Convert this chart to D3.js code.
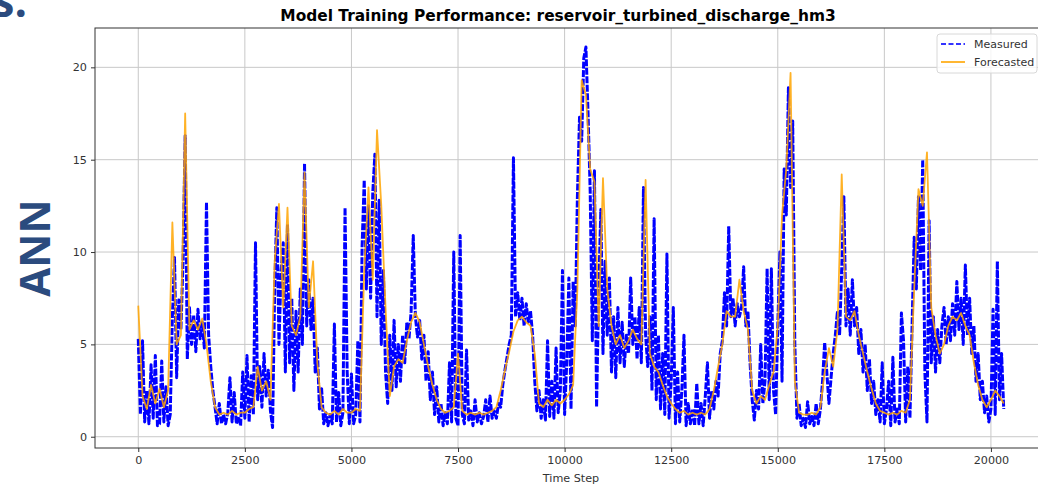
<html>
<head>
<meta charset="utf-8">
<script src="https://d3js.org/d3.v7.min.js"></script>
<style>
  body { margin: 0; background: white; }
  text { font-family: "DejaVu Sans", sans-serif; }
</style>
</head>
<body>
<div id="chart"></div>
<script>

// values, one point every 50 time steps for Measured
var measuredStep = 50;
var measured = [
  5.3, 1.2, 5.2, 0.8, 2.5, 0.7, 3.9, 1.0, 4.4, 0.6,
  0.7, 4.1, 0.8, 2.7, 0.6, 1.2, 6.5, 9.7, 3.2, 7.4,
  5.8, 9.5, 16.3, 4.2, 7.0, 5.0, 6.6, 4.6, 6.9, 5.3,
  6.2, 4.8, 12.7, 5.5, 3.8, 2.5, 1.6, 0.7, 1.8, 0.7,
  1.2, 0.7, 1.3, 3.2, 0.8, 2.4, 0.7, 1.1, 0.6, 3.5,
  1.0, 4.4, 0.8, 3.3, 1.2, 10.5, 2.0, 3.8, 1.6, 4.5,
  2.2, 3.6, 1.4, 0.5, 8.0, 12.4, 5.0, 9.0, 10.5, 3.5,
  11.5, 4.0, 7.5, 2.5, 6.8, 3.5, 8.0, 5.0, 14.8, 6.0,
  8.5, 5.8, 7.5, 3.5, 4.8, 1.5, 2.6, 0.7, 1.3, 0.6,
  1.2, 0.7, 6.1, 0.8, 2.4, 0.6, 1.3, 12.4, 3.5, 0.7,
  3.4, 0.7, 1.2, 5.2, 0.8, 10.3, 13.9, 8.0, 12.5, 7.5,
  13.2, 15.3, 6.5, 12.8, 5.0, 9.0, 3.5, 1.8, 5.5, 2.5,
  6.3, 2.7, 5.0, 3.0, 5.5, 4.0, 6.2, 5.3, 6.8, 10.9,
  6.5, 5.4, 6.3, 4.2, 5.5, 3.0, 4.6, 2.0, 3.5, 1.2,
  2.7, 0.8, 1.8, 0.6, 1.3, 0.7, 4.0, 0.8, 10.0, 1.0,
  0.6, 10.9, 1.2, 0.7, 4.7, 0.9, 1.4, 0.6, 2.0, 0.8,
  1.3, 0.7, 1.1, 2.0, 0.8, 2.2, 1.0, 1.4, 1.0, 1.8,
  1.6, 2.8, 3.6, 4.3, 5.0, 5.5, 15.1, 6.5, 7.8, 6.3,
  7.5, 6.0, 7.2, 6.2, 6.8, 5.5, 3.0, 1.4, 2.5, 1.0,
  2.0, 0.9, 5.2, 1.1, 3.0, 1.0, 4.8, 1.3, 2.5, 9.0,
  1.2, 4.0, 8.6, 1.5, 8.4, 6.0, 13.0, 17.3, 16.0, 20.5,
  21.1, 17.5, 13.3, 5.2, 14.4, 1.6, 8.0, 12.3, 4.5, 9.5,
  5.5, 8.6, 3.5, 6.5, 3.2, 7.0, 4.0, 6.2, 3.8, 5.5,
  4.5, 8.6, 5.0, 6.5, 4.2, 7.0, 4.0, 13.5, 5.5, 3.8,
  6.5, 2.5, 11.8, 2.0, 5.5, 1.5, 4.5, 1.2, 9.9, 1.0,
  3.0, 7.0, 0.7, 3.5, 0.8, 2.5, 5.5, 0.6, 1.8, 0.7,
  1.5, 0.6, 2.9, 0.7, 1.8, 0.6, 2.2, 4.0, 1.0, 2.5,
  1.5, 3.0, 2.2, 4.5, 5.2, 7.8, 6.0, 11.4, 6.5, 7.5,
  6.0, 7.2, 6.5, 7.0, 9.2, 6.0, 6.8, 4.0, 2.0, 0.9,
  2.5, 1.5, 5.0, 1.8, 3.0, 9.1, 2.0, 9.1, 2.5, 1.2,
  6.0, 10.0, 3.0, 14.5, 12.0, 18.9, 13.5, 17.1, 5.0, 1.0,
  1.8, 0.6, 1.0, 0.5, 1.9, 0.7, 1.1, 0.6, 1.8, 0.7,
  1.5, 3.0, 5.1, 3.5, 1.8, 3.2, 4.5, 5.5, 6.8, 5.5,
  9.1, 13.0, 6.0, 8.0, 5.5, 8.5, 6.0, 7.0, 4.5, 5.8,
  3.5, 5.0, 2.5, 4.2, 1.8, 3.0, 1.2, 2.0, 0.8, 4.0,
  0.7, 1.5, 3.0, 0.6, 4.3, 0.8, 1.5, 0.7, 6.7, 5.2,
  0.8, 3.8, 1.0, 6.0, 10.8, 8.0, 13.0, 9.0, 15.0, 3.5,
  0.8, 11.7, 4.0, 6.5, 3.5, 5.8, 4.0, 6.0, 7.0, 5.0,
  6.5, 5.2, 7.2, 5.5, 8.4, 5.8, 7.5, 5.0, 9.3, 5.5,
  7.5, 4.5, 6.0, 3.0, 4.5, 2.0, 3.0, 1.3, 2.2, 0.8,
  1.5, 6.9, 1.2, 9.5, 2.0, 4.5, 1.5
];

// Forecasted, one point every 100 time steps
var forecastStep = 100;
var forecasted = [
  7.1, 2.2, 1.5, 2.8, 1.8, 2.6, 1.6, 2.5, 11.6, 5.0,
  5.5, 17.5, 5.8, 6.3, 5.8, 6.4, 5.0, 3.0, 1.6, 1.2,
  1.3, 1.2, 1.4, 1.2, 1.3, 1.3, 1.5, 1.6, 3.8, 2.5,
  3.0, 2.0, 9.5, 12.6, 7.0, 12.4, 6.0, 5.5, 6.5, 14.3,
  7.0, 9.5, 4.0, 1.6, 1.3, 1.2, 1.4, 1.2, 1.5, 1.3,
  1.3, 1.5, 1.4, 9.0, 13.5, 8.5, 16.6, 12.5, 7.0, 2.2,
  3.8, 4.2, 4.0, 5.2, 6.2, 6.7, 6.2, 5.0, 3.8, 2.8,
  2.0, 1.5, 1.3, 1.4, 1.6, 4.5, 1.4, 1.2, 1.3, 1.2,
  1.3, 1.2, 1.3, 1.4, 1.6, 2.5, 3.6, 4.6, 5.7, 6.3,
  6.5, 6.2, 6.0, 4.5, 1.8, 1.6, 2.0, 1.7, 2.0, 1.8,
  2.0, 2.3, 2.8, 8.0, 19.3, 18.5, 14.5, 13.8, 6.0, 14.0,
  8.0, 6.0, 5.0, 5.5, 4.8, 5.2, 5.8, 5.3, 5.0, 13.9,
  4.5, 3.8, 3.5, 2.8, 2.2, 1.8, 1.5, 1.3, 1.4, 1.2,
  1.3, 1.2, 1.3, 1.2, 1.5, 2.5, 3.8, 5.0, 6.8, 6.5,
  6.5, 8.5, 6.8, 5.8, 2.5, 1.8, 2.2, 2.0, 2.8, 3.5,
  6.0, 12.0, 14.5, 19.7, 3.0, 1.3, 1.2, 1.2, 1.3, 1.2,
  1.6, 3.5, 4.8, 3.8, 5.8, 14.2, 6.5, 6.3, 6.8, 5.5,
  4.5, 3.5, 2.6, 1.8, 1.4, 1.3, 1.2, 1.3, 1.2, 1.4,
  1.3, 2.0, 8.0, 13.4, 12.5, 15.4, 7.0, 5.5, 4.5, 5.0,
  6.0, 6.5, 6.3, 6.7, 6.0, 5.5, 4.0, 2.8, 2.0, 1.6,
  2.0, 2.5, 2.2, 1.8
];

var xTicks = [0, 2500, 5000, 7500, 10000, 12500, 15000, 17500, 20000];
var yTicks = [0, 5, 10, 15, 20];
var seriesNames = ["Measured", "Forecasted"];

var W = 1038, H = 486;
var margin = {top: 28, left: 95, bottom: 38, right: -9};  // right spine falls just outside the picture
var width = W - margin.left - margin.right,
    height = H - margin.top - margin.bottom;

var svg = d3.select("#chart")
  .append("svg")
    .attr("width", W)
    .attr("height", H)
    .style("display", "block");

var g = svg.append("g")
    .attr("transform", "translate(" + margin.left + "," + margin.top + ")");

var x = d3.scaleLinear()
  .domain([-1015, 21315])
  .range([0, width]);

var y = d3.scaleLinear()
  .domain([-0.61, 22.13])
  .range([height, 0]);

// grid
g.append("g")
  .selectAll("line")
  .data(xTicks)
  .enter()
  .append("line")
    .attr("x1", function(d) { return x(d); })
    .attr("x2", function(d) { return x(d); })
    .attr("y1", 0)
    .attr("y2", height)
    .attr("stroke", "#c8c8c8")
    .attr("stroke-width", 1);

g.append("g")
  .selectAll("line")
  .data(yTicks)
  .enter()
  .append("line")
    .attr("x1", 0)
    .attr("x2", width)
    .attr("y1", function(d) { return y(d); })
    .attr("y2", function(d) { return y(d); })
    .attr("stroke", "#c8c8c8")
    .attr("stroke-width", 1);

// axes
var xAxis = g.append("g")
  .attr("transform", "translate(0," + height + ")")
  .call(d3.axisBottom(x).tickValues(xTicks).tickFormat(d3.format("d")).tickSize(4).tickPadding(4));

var yAxis = g.append("g")
  .call(d3.axisLeft(y).tickValues(yTicks).tickFormat(d3.format("d")).tickSize(4).tickPadding(4));

[xAxis, yAxis].forEach(function(a) {
  a.select(".domain").remove();
  a.selectAll(".tick line").attr("stroke", "#333");
  a.selectAll(".tick text")
    .attr("fill", "#333")
    .style("font-family", "DejaVu Sans")
    .style("font-size", "11.2px");
});

svg.append("clipPath")
    .attr("id", "plotclip")
  .append("rect")
    .attr("width", width)
    .attr("height", height);

var plot = g.append("g").attr("clip-path", "url(#plotclip)");

var measuredLine = d3.line()
  .x(function(d, i) { return x(i * measuredStep); })
  .y(function(d) { return y(d); });

var forecastLine = d3.line()
  .x(function(d, i) { return x(i * forecastStep); })
  .y(function(d) { return y(d); });

plot.append("path")
  .datum(measured)
  .attr("d", measuredLine)
  .attr("fill", "none")
  .attr("stroke", "#0000ff")
  .attr("stroke-width", 3)
  .attr("stroke-dasharray", "7,1.5")
  .attr("stroke-linejoin", "round");

plot.append("path")
  .datum(forecasted)
  .attr("d", forecastLine)
  .attr("fill", "none")
  .attr("stroke", "orange")
  .attr("stroke-opacity", 0.85)
  .attr("stroke-width", 1.8)
  .attr("stroke-linejoin", "round");

// frame
g.append("rect")
  .attr("width", width)
  .attr("height", height)
  .attr("fill", "none")
  .attr("stroke", "#333")
  .attr("stroke-width", 1);

// title and label
svg.append("text")
  .attr("x", 558)
  .attr("y", 21)
  .attr("text-anchor", "middle")
  .style("font-size", "15.4px")
  .style("font-weight", "bold")
  .text("Model Training Performance: reservoir_turbined_discharge_hm3");

svg.append("text")
  .attr("x", margin.left + width / 2)
  .attr("y", 482)
  .attr("text-anchor", "middle")
  .style("font-size", "11.2px")
  .attr("fill", "#333")
  .text("Time Step");

// legend
var legend = svg.append("g").attr("transform", "translate(937,34)");
legend.append("rect")
  .attr("width", 100)
  .attr("height", 39)
  .attr("rx", 3)
  .attr("fill", "white")
  .attr("fill-opacity", 0.8)
  .attr("stroke", "#d8d8d8");

var legendColor = d3.scaleOrdinal().domain(seriesNames).range(["#0000ff", "orange"]);
var legendDash = d3.scaleOrdinal().domain(seriesNames).range(["5,2.5", null]);

legend.selectAll("line.key")
  .data(seriesNames)
  .enter()
  .append("line")
    .attr("class", "key")
    .attr("x1", 4)
    .attr("x2", 28)
    .attr("y1", function(d, i) { return 10 + i * 18; })
    .attr("y2", function(d, i) { return 10 + i * 18; })
    .attr("stroke", function(d) { return legendColor(d); })
    .attr("stroke-opacity", 0.8)
    .attr("stroke-width", 2)
    .attr("stroke-dasharray", function(d) { return legendDash(d); });

legend.selectAll("text.key")
  .data(seriesNames)
  .enter()
  .append("text")
    .attr("class", "key")
    .attr("x", 37)
    .attr("y", function(d, i) { return 10 + i * 18; })
    .attr("dy", "0.35em")
    .attr("fill", "#333")
    .style("font-size", "11px")
    .text(function(d) { return d; });

// slide text around the chart
svg.append("text")
  .attr("x", 27)
  .attr("y", 17)
  .attr("text-anchor", "end")
  .attr("fill", "#2b4b7e")
  .style("font-family", "Open Sans")
  .style("font-weight", "bold")
  .style("font-size", "44px")
  .text("s:");

svg.append("text")
  .attr("transform", "translate(50,248) rotate(-90)")
  .attr("text-anchor", "middle")
  .attr("fill", "#2b4b7e")
  .style("font-family", "Open Sans")
  .style("font-weight", "bold")
  .style("font-size", "42px")
  .text("ANN");

</script>
</body>
</html>
